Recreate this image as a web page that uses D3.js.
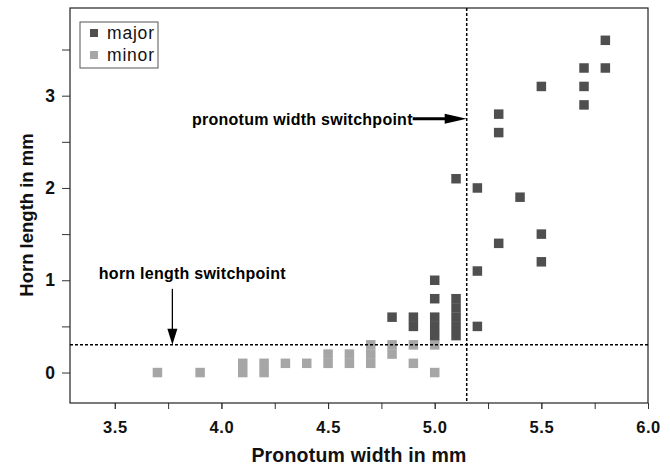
<!DOCTYPE html>
<html>
<head>
<meta charset="utf-8">
<script src="https://cdn.jsdelivr.net/npm/d3@7"></script>
<style>
  body { margin: 0; background: #fff; }
  text { font-family: "Liberation Sans", Arial, sans-serif; }
</style>
</head>
<body>
<div id="canvas"></div>
<script>
// points (mm)
const majorX = [4.8, 4.9, 4.9, 5.0, 5.0, 5.0, 5.0, 5.0, 5.1, 5.1, 5.1, 5.1, 5.1, 5.1,
                5.2, 5.2, 5.2, 5.3, 5.3, 5.3, 5.4, 5.5, 5.5, 5.5, 5.7, 5.7, 5.7, 5.8, 5.8];
const majorY = [0.6, 0.5, 0.6, 0.4, 0.5, 0.6, 0.8, 1.0, 0.4, 0.5, 0.6, 0.7, 0.8, 2.1,
                0.5, 1.1, 2.0, 1.4, 2.6, 2.8, 1.9, 1.2, 1.5, 3.1, 2.9, 3.1, 3.3, 3.3, 3.6];
const minorX = [3.7, 3.9, 4.1, 4.1, 4.2, 4.2, 4.3, 4.4, 4.5, 4.5, 4.6, 4.6,
                4.7, 4.7, 4.7, 4.8, 4.8, 4.9, 4.9, 5.0, 5.0];
const minorY = [0, 0, 0, 0.1, 0, 0.1, 0.1, 0.1, 0.1, 0.2, 0.1, 0.2,
                0.1, 0.2, 0.3, 0.2, 0.3, 0.1, 0.3, 0, 0.3];

const xTicks = [3.5, 4.0, 4.5, 5.0, 5.5, 6.0];
const xMinor = [3.5, 3.75, 4.0, 4.25, 4.5, 4.75, 5.0, 5.25, 5.5, 5.75, 6.0];
const yTicks = [0, 1, 2, 3];
const yMinor = [0.5, 1.5, 2.5, 3.5];

const widthSwitch = 5.15;
const hornSwitch = 0.3;

const w = 670;
const h = 468;
const margin = {
  top: 8,
  bottom: 65,
  left: 70,
  right: 22
}
const size = 9.5;

function render(){
  const width = w - (margin.left + margin.right);
  const height = h - (margin.top + margin.bottom);

  let svg = d3.select("#canvas")
              .append("svg")
              .attr("id","chart")
              .attr("width", w)
              .attr("height", h)

  let chart = svg.append("g")
                 .attr("transform", "translate(" + margin.left + "," + margin.top + ")");

  let x = d3.scaleLinear().domain([3.29, 6.0]).range([0, width]);
  let y = d3.scaleLinear().domain([-0.33, 3.95]).range([height, 0]);

  // axes
  let xAxis = chart.append("g")
                   .attr("transform", "translate(0," + height + ")")
                   .call(d3.axisBottom(x).tickValues(xTicks).tickFormat(d3.format(".1f")).tickSize(6).tickPadding(12))
  xAxis.select(".domain").remove();
  xAxis.selectAll("text").attr("font-size", 16.5).attr("letter-spacing", 0.6).attr("font-weight", "bold").attr("fill", "#111");
  let xAxisMinor = chart.append("g")
                   .attr("transform", "translate(0," + height + ")")
                   .call(d3.axisBottom(x).tickValues(xMinor).tickFormat("").tickSize(6))
  xAxisMinor.select(".domain").remove();

  let yAxis = chart.append("g")
                   .call(d3.axisLeft(y).tickValues(yTicks).tickFormat(d3.format("d")).tickSize(8).tickPadding(7))
  yAxis.select(".domain").remove();
  yAxis.selectAll("text").attr("font-size", 17.5).attr("font-weight", "bold").attr("fill", "#111");
  let yAxisMinor = chart.append("g")
                   .call(d3.axisLeft(y).tickValues(yMinor).tickFormat("").tickSize(8))
  yAxisMinor.select(".domain").remove();
  chart.selectAll(".tick line").attr("stroke", "#333");

  chart.append("rect")
       .attr("width", width)
       .attr("height", height)
       .attr("fill", "none")
       .attr("stroke", "#222")
       .attr("stroke-width", 1.2)

  // points
  chart.append("g")
       .selectAll("rect")
       .data(minorX)
       .enter()
         .append("rect")
         .attr("x", function(d) { return x(d) - size/2; })
         .attr("y", function(d, i) { return y(minorY[i]) - size/2; })
         .attr("width", size)
         .attr("height", size)
         .attr("fill", "#a6a6a6")

  chart.append("g")
       .selectAll("rect")
       .data(majorX)
       .enter()
         .append("rect")
         .attr("x", function(d) { return x(d) - size/2; })
         .attr("y", function(d, i) { return y(majorY[i]) - size/2; })
         .attr("width", size)
         .attr("height", size)
         .attr("fill", "#4f4f4f")

  // switchpoint lines
  chart.append("line")
       .attr("x1", 0).attr("x2", width)
       .attr("y1", y(hornSwitch)).attr("y2", y(hornSwitch))
       .attr("stroke", "#000").attr("stroke-width", 1.5).attr("stroke-dasharray", "3,2")
  chart.append("line")
       .attr("x1", x(widthSwitch)).attr("x2", x(widthSwitch))
       .attr("y1", 0).attr("y2", height)
       .attr("stroke", "#000").attr("stroke-width", 1.5).attr("stroke-dasharray", "3,2")

  // pronotum width annotation
  let ay = y(2.75);
  let ax = x(widthSwitch);
  chart.append("line")
       .attr("x1", ax - 54).attr("x2", ax - 18)
       .attr("y1", ay).attr("y2", ay)
       .attr("stroke", "#000").attr("stroke-width", 3.2)
  chart.append("path")
       .attr("d", "M" + ax + "," + ay + "L" + (ax - 22) + "," + (ay - 5) + "L" + (ax - 22) + "," + (ay + 5) + "Z")
       .attr("fill", "#000")
  chart.append("text")
       .attr("x", ax - 54)
       .attr("y", ay + 6)
       .attr("text-anchor", "end")
       .attr("font-size", 16)
       .attr("letter-spacing", 0.25)
       .attr("font-weight", "bold")
       .text("pronotum width switchpoint")

  // horn length annotation
  let hx = x(3.77);
  let hy = y(hornSwitch);
  chart.append("line")
       .attr("x1", hx).attr("x2", hx)
       .attr("y1", hy - 56).attr("y2", hy - 14)
       .attr("stroke", "#000").attr("stroke-width", 1.3)
  chart.append("path")
       .attr("d", "M" + hx + "," + hy + "L" + (hx - 5) + "," + (hy - 16) + "L" + (hx + 5) + "," + (hy - 16) + "Z")
       .attr("fill", "#000")
  chart.append("text")
       .attr("x", hx + 20)
       .attr("y", hy - 66)
       .attr("text-anchor", "middle")
       .attr("font-size", 16)
       .attr("letter-spacing", 0.25)
       .attr("font-weight", "bold")
       .text("horn length switchpoint")

  // legend
  let legend = chart.append("g")
                    .attr("transform", "translate(10,14)")
  legend.append("rect")
        .attr("width", 78).attr("height", 46)
        .attr("fill", "#fff").attr("stroke", "#555").attr("stroke-width", 1)
  let items = [["major", "#4f4f4f"], ["minor", "#a6a6a6"]];
  items.forEach(function(d, i){
    legend.append("rect")
          .attr("x", 10).attr("y", 7 + i*22)
          .attr("width", 8).attr("height", 8)
          .attr("fill", d[1])
    legend.append("text")
          .attr("x", 27).attr("y", 17 + i*22)
          .attr("font-size", 17.5)
          .attr("letter-spacing", 0.8)
          .attr("fill", "#111")
          .text(d[0])
  })

  // axis titles
  svg.append("text")
     .attr("x", margin.left + width/2)
     .attr("y", h - 6)
     .attr("text-anchor", "middle")
     .attr("font-size", 19.5)
     .attr("letter-spacing", 0.2)
     .attr("font-weight", "bold")
     .attr("fill", "#111")
     .text("Pronotum width in mm")
  svg.append("text")
     .attr("transform", "translate(33," + 215 + ") rotate(-90)")
     .attr("text-anchor", "middle")
     .attr("font-size", 18.5)
     .attr("font-weight", "bold")
     .attr("fill", "#111")
     .text("Horn length in mm")
}

render();
</script>
</body>
</html>
